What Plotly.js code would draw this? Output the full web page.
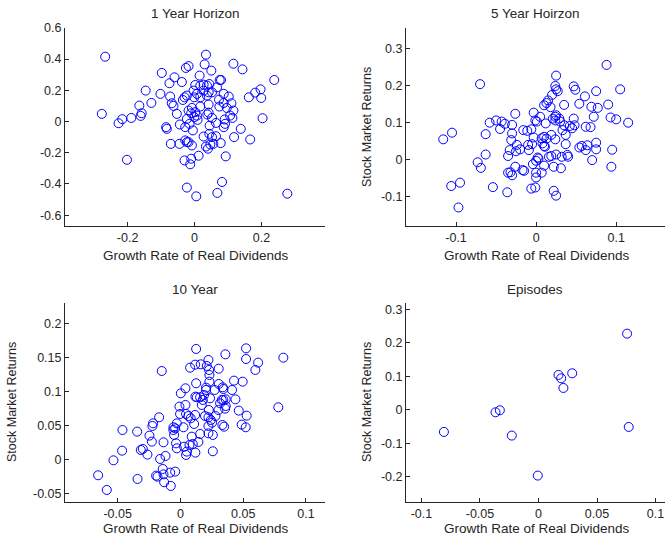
<!DOCTYPE html>
<html>
<head>
<meta charset="utf-8">
<script src="https://cdn.plot.ly/plotly-3.0.1.min.js"></script>
<style>html,body{margin:0;padding:0;background:#fff;}#chart{width:665px;height:537px;}</style>
</head>
<body>
<div id="chart"></div>
<script>
// ---- Panel titles / axis labels ----
const panelTitles = ["1 Year Horizon", "5 Year Hoirzon", "10 Year", "Episodes"];
const xLabel = "Growth Rate of Real Dividends";
const yLabel = "Stock Market Returns";

// ---- 1 Year Horizon ----
const h1x = [-0.267,-0.277,-0.227,-0.216,-0.189,-0.202,-0.146,-0.165,-0.158,-0.161,-0.129,-0.098,-0.102,-0.075,-0.060,-0.073,-0.068,-0.063,-0.053,-0.085,-0.083,-0.071,-0.045,-0.044,-0.038,-0.035,-0.030,-0.023,-0.026,-0.018,-0.028,-0.023,-0.018,-0.008,-0.030,-0.010,-0.013,-0.023,0.005,0.012,0.034,0.030,0.050,0.116,0.143,0.238,0.197,0.181,0.162,0.199,0.203,0.166,0.138,0.118,0.093,0.082,0.068,0.277,0.015,0.002,0.017,0.027,0.037,0.044,0.075,0.079,0.067,-0.003,0.007,-0.001,0.017,0.037,0.052,0.042,0.073,0.087,0.102,0.110,0.087,0.074,0.096,0.116,0.106,0.113,0.090,0.091,0.087,0.064,0.052,0.045,0.038,0.042,0.017,-0.008,-0.018,-0.010,-0.001,0.009,-0.023,-0.028,-0.015,-0.005,0.027,0.044,0.052,0.064,0.047,0.034,0.040,0.056,0.078,0.002,0.007,0.042,0.027];
const h1y = [0.415,0.049,-0.011,0.015,0.023,-0.245,0.198,0.102,0.053,0.036,0.119,0.311,0.177,0.245,0.283,0.160,0.117,0.100,0.049,-0.036,-0.047,-0.143,-0.143,-0.019,0.253,0.138,0.155,0.166,0.343,0.355,-0.121,-0.132,-0.132,-0.153,-0.249,-0.238,-0.274,-0.423,-0.479,-0.219,0.428,0.366,0.326,0.370,0.334,0.266,0.206,0.185,0.155,0.151,0.021,-0.115,-0.047,-0.100,-0.223,-0.387,-0.457,-0.462,0.294,0.234,0.230,0.236,0.230,0.240,0.266,0.266,0.219,0.198,0.177,0.155,0.155,0.166,0.187,0.109,0.140,0.177,0.160,0.117,0.119,0.096,0.087,0.070,0.038,0.023,0.013,-0.015,-0.036,-0.009,0.023,-0.026,0.045,0.057,0.096,0.087,0.070,0.053,0.028,0.011,0.017,-0.036,-0.015,-0.057,-0.096,-0.079,-0.100,-0.094,-0.147,-0.160,-0.174,-0.143,-0.138,0.060,0.038,0.187,0.198];

// ---- 5 Year Horizon ----
const h5x = [-0.116,-0.105,-0.106,-0.095,-0.097,-0.070,-0.073,-0.069,-0.063,-0.063,-0.058,-0.054,-0.050,-0.045,-0.043,-0.039,-0.036,-0.035,-0.035,-0.032,-0.030,-0.033,-0.031,-0.030,-0.030,-0.026,-0.026,-0.025,-0.024,-0.020,-0.017,-0.015,-0.016,-0.011,-0.010,-0.009,-0.006,-0.001,-0.005,-0.006,-0.003,-0.004,0.000,-0.003,-0.001,0.001,0.002,0.003,0.000,0.000,0.007,0.010,0.005,0.007,0.008,0.010,0.010,0.011,0.013,0.012,0.010,0.013,0.015,0.018,0.016,0.019,0.019,0.021,0.024,0.024,0.025,0.024,0.022,0.022,0.025,0.025,0.020,0.024,0.025,0.027,0.025,0.029,0.030,0.031,0.032,0.035,0.033,0.035,0.037,0.037,0.039,0.040,0.042,0.045,0.047,0.048,0.047,0.049,0.054,0.054,0.057,0.061,0.062,0.062,0.064,0.068,0.069,0.070,0.072,0.075,0.075,0.075,0.077,0.088,0.090,0.093,0.095,0.094,0.100,0.105,0.115];
const h5y = [0.055,0.073,-0.071,-0.062,-0.129,0.204,-0.007,-0.022,0.069,0.014,0.100,-0.074,0.106,0.083,0.103,0.097,-0.088,0.010,-0.035,-0.034,-0.042,0.026,0.053,0.071,0.094,0.124,-0.019,0.023,0.040,0.028,-0.028,-0.030,0.080,0.078,0.040,0.026,-0.078,-0.075,0.042,0.082,0.060,-0.012,-0.003,0.127,0.106,0.103,0.006,0.003,-0.035,-0.048,-0.035,-0.016,0.116,0.058,0.044,0.062,0.037,0.035,0.057,0.098,0.147,0.153,0.160,0.142,0.008,0.010,0.067,0.111,0.116,0.106,0.120,0.055,-0.019,-0.084,-0.097,0.014,0.175,0.199,0.190,0.185,0.227,0.111,0.103,-0.023,0.008,0.148,0.080,0.093,0.067,0.042,0.013,0.008,0.091,0.085,0.111,0.093,0.198,0.189,0.151,0.033,0.037,0.171,0.089,0.026,0.039,0.088,0.143,-0.001,0.116,0.185,0.028,0.046,0.140,0.256,0.149,0.114,0.027,-0.019,0.109,0.190,0.100];

// ---- 10 Year ----
const h10x = [-0.0656,-0.0587,-0.0534,-0.0465,-0.0462,-0.0345,-0.0342,-0.0316,-0.0300,-0.0263,-0.0247,-0.0228,-0.0223,-0.0218,-0.0170,-0.0149,-0.0162,-0.0135,-0.0119,-0.0141,-0.0194,-0.0183,-0.0135,-0.0130,-0.0082,-0.0042,-0.0077,-0.0056,-0.0050,-0.0056,-0.0042,-0.0029,-0.0035,-0.0029,-0.0008,0.0003,-0.0003,0.0024,0.0029,0.0040,0.0040,0.0045,0.0045,0.0050,0.0064,0.0082,0.0072,0.0090,0.0098,0.0109,0.0117,0.0119,0.0125,0.0125,0.0119,0.0130,0.0077,0.0117,0.0143,0.0157,0.0157,0.0162,0.0170,0.0178,0.0188,0.0196,0.0204,0.0204,0.0210,0.0223,0.0228,0.0231,0.0231,0.0236,0.0226,0.0223,0.0223,0.0223,0.0242,0.0258,0.0252,0.0258,0.0273,0.0279,0.0303,0.0305,0.0305,0.0316,0.0329,0.0337,0.0342,0.0342,0.0334,0.0348,0.0356,0.0361,0.0358,0.0361,0.0411,0.0427,0.0438,0.0465,0.0488,0.0496,0.0520,0.0523,0.0523,0.0528,0.0597,0.0619,0.0780,0.0820];
const h10y = [-0.0235,-0.0451,-0.0015,0.0127,0.0431,0.0407,-0.0289,0.0137,0.0152,0.0069,0.0348,0.0260,0.0490,0.0529,0.0618,0.1299,0.0005,0.0250,0.0049,-0.0142,-0.0240,-0.0255,-0.0221,-0.0338,-0.0196,-0.0181,-0.0392,0.0431,0.0358,0.0471,0.0456,0.0529,0.0235,0.0162,0.0775,0.0971,0.0667,0.0471,0.0186,0.0799,0.1044,0.0667,0.0064,0.0113,0.0637,0.0603,0.0211,0.0333,0.0225,0.0520,0.0652,0.0098,0.1623,0.1118,0.0922,0.0912,0.1348,0.1392,0.0255,0.0912,0.0373,0.1397,0.0799,0.0873,0.0946,0.0637,0.1054,0.1020,0.1373,0.1461,0.1314,0.1240,0.1142,0.0897,0.0725,0.0618,0.0490,0.0382,0.0578,0.0358,0.0539,0.0118,0.1020,0.0637,0.0725,0.1333,0.1108,0.0824,0.0873,0.1059,0.1034,0.0873,0.0505,0.0480,0.0745,0.0784,0.1544,0.0882,0.1020,0.1157,0.0882,0.0716,0.0510,0.1142,0.0471,0.1632,0.1475,0.0642,0.1314,0.1422,0.0765,0.1495];

// ---- Episodes ----
const epx = [-0.0808,-0.0367,-0.0330,-0.0228,-0.0006,0.0171,0.0194,0.0213,0.0288,0.0757,0.0771];
const epy = [-0.0656,-0.0070,-0.0010,-0.0765,-0.1958,0.1044,0.0944,0.0656,0.1093,0.2276,-0.0507];

// ---- Tick labels ----
const t1xv = [-0.2, 0, 0.2], t1xt = ["-0.2", "0", "0.2"];
const t1yv = [-0.6, -0.4, -0.2, 0, 0.2, 0.4, 0.6], t1yt = ["-0.6", "-0.4", "-0.2", "0", "0.2", "0.4", "0.6"];
const t2xv = [-0.1, 0, 0.1], t2xt = ["-0.1", "0", "0.1"];
const t2yv = [-0.1, 0, 0.1, 0.2, 0.3], t2yt = ["-0.1", "0", "0.1", "0.2", "0.3"];
const t3xv = [-0.05, 0, 0.05, 0.1], t3xt = ["-0.05", "0", "0.05", "0.1"];
const t3yv = [-0.05, 0, 0.05, 0.1, 0.15, 0.2], t3yt = ["-0.05", "0", "0.05", "0.1", "0.15", "0.2"];
const t4xv = [-0.1, -0.05, 0, 0.05, 0.1], t4xt = ["-0.1", "-0.05", "0", "0.05", "0.1"];
const t4yv = [-0.2, -0.1, 0, 0.1, 0.2, 0.3], t4yt = ["-0.2", "-0.1", "0", "0.1", "0.2", "0.3"];

const W = 665, H = 537;
const FONT = "Liberation Sans, Arial, sans-serif";
const INK = "#262626";
const px = v => v / W, py = v => 1 - v / H;

const marker = {symbol: "circle-open", size: 9, color: "#0000ff", line: {width: 1, color: "#0000ff"}};
function tr(x, y, xa, ya) {
  return {type: "scatter", mode: "markers", x: x, y: y, xaxis: xa, yaxis: ya, marker: marker, hoverinfo: "x+y", showlegend: false};
}
const data = [tr(h1x, h1y, "x", "y"), tr(h5x, h5y, "x2", "y2"), tr(h10x, h10y, "x3", "y3"), tr(epx, epy, "x4", "y4")];

function ax(domain, range, tv, tt, anchor) {
  return {domain: domain, range: range, tickmode: "array", tickvals: tv, ticktext: tt, anchor: anchor,
    showline: true, mirror: false, linecolor: INK, linewidth: 1, ticks: "inside", ticklen: 4, tickwidth: 1, tickcolor: INK,
    showgrid: false, zeroline: false, tickfont: {family: FONT, size: 12.5, color: INK}, fixedrange: true};
}
const dxL = [px(65), px(324.5)], dxR = [px(406), 1];
const dyT = [py(226), py(27.5)], dyB = [py(502), py(303)];

const layout = {
  width: W, height: H, margin: {l: 0, r: 0, t: 0, b: 0}, paper_bgcolor: "#fff", plot_bgcolor: "#fff",
  font: {family: FONT, size: 12, color: INK}, showlegend: false,
  xaxis: ax(dxL, [-0.387, 0.388], t1xv, t1xt, "y"),
  yaxis: ax(dyT, [-0.669, 0.602], t1yv, t1yt, "x"),
  xaxis2: ax(dxR, [-0.1625, 0.161], t2xv, t2xt, "y2"),
  yaxis2: ax(dyT, [-0.179, 0.357], t2yv, t2yt, "x2"),
  xaxis3: ax(dxL, [-0.092, 0.1148], t3xv, t3xt, "y3"),
  yaxis3: ax(dyB, [-0.0628, 0.2299], t3yv, t3yt, "x3"),
  xaxis4: ax(dxR, [-0.1132, 0.1081], t4xv, t4xt, "y4"),
  yaxis4: ax(dyB, [-0.2746, 0.319], t4yv, t4yt, "x4"),
  annotations: []
};
function ann(text, x, y, angle, size) {
  return {text: text, xref: "paper", yref: "paper", x: px(x), y: py(y), xanchor: "center", yanchor: "middle",
    showarrow: false, textangle: angle || 0, font: {family: FONT, size: size, color: INK}};
}
layout.annotations.push(
  ann(panelTitles[0], 196, 13, 0, 13.5), ann(panelTitles[1], 535, 13, 0, 13.5),
  ann(panelTitles[2], 195, 289, 0, 13.5), ann(panelTitles[3], 535, 289, 0, 13.5),
  ann(xLabel, 196, 255, 0, 13.5), ann(xLabel, 537, 255, 0, 13.5),
  ann(xLabel, 196, 528, 0, 13.5), ann(xLabel, 537, 528, 0, 13.5),
  ann(yLabel, 367, 127, -90, 12.5), ann(yLabel, 12, 402, -90, 12.5), ann(yLabel, 367, 402, -90, 12.5)
);
Plotly.newPlot("chart", data, layout, {staticPlot: true, displayModeBar: false});
</script>
</body>
</html>
